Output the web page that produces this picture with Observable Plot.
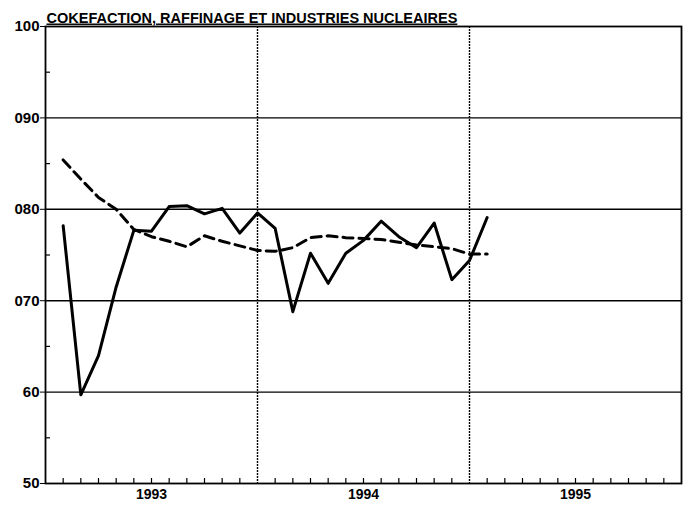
<!DOCTYPE html>
<html><head><meta charset="utf-8">
<script src="https://cdn.jsdelivr.net/npm/d3@7"></script>
<script src="https://cdn.jsdelivr.net/npm/@observablehq/plot@0.6"></script>
<style>body{margin:0;background:#fff}</style>
</head><body><div id="chart"></div>
<script>
const title = "COKEFACTION, RAFFINAGE ET INDUSTRIES NUCLEAIRES";
const months = ["1993-01","1993-02","1993-03","1993-04","1993-05","1993-06","1993-07","1993-08","1993-09","1993-10","1993-11","1993-12",
                "1994-01","1994-02","1994-03","1994-04","1994-05","1994-06","1994-07","1994-08","1994-09","1994-10","1994-11","1994-12",
                "1995-01"];
const actual = [78.2,59.7,64.0,71.5,77.7,77.6,80.3,80.4,79.5,80.1,77.4,79.6,
                77.9,68.8,75.2,71.9,75.2,76.6,78.7,77.0,75.8,78.5,72.3,74.4,
                79.1];
const trend  = [85.4,83.3,81.3,80.0,77.8,77.0,76.5,75.9,77.1,76.5,76.0,75.5,
                75.4,75.8,76.9,77.1,76.9,76.8,76.7,76.4,76.1,75.9,75.7,75.1,
                75.1];
const years = ["1993","1994","1995"];
const yTicks = [50,60,70,80,90,100];
const yTickLabels = ["50","60","070","080","090","100"];
const yGrid = [60,70,80,90];
const yMinor = [55,65,75,85,95];

const W = 688, H = 506;
const mL = 45, mR = 7, mT = 26, mB = 23;
const pw = W - mL - mR, ph = H - mT - mB;

// position: month index i -> end of month (i+1), on a 36-month axis
const data = months.map((m, i) => ({pos: i + 1, actual: actual[i], trend: trend[i]}));
const yearStarts = years.slice(1).map((y, i) => (i + 1) * 12);
const yearMids = years.map((y, i) => i * 12 + 6);
const monthTicks = d3.range(1, 36).filter(d => d % 12 !== 0);

const chart = Plot.plot({
  width: W, height: H,
  marginLeft: mL, marginRight: mR, marginTop: mT, marginBottom: mB,
  style: {fontFamily: "'Liberation Sans', Arial, sans-serif", color: "#000", background: "#fff"},
  x: {domain: [0, 36]},
  y: {domain: [50, 100]},
  marks: [
    Plot.ruleY(yGrid, {stroke: "#000", strokeWidth: 1.4}),
    Plot.ruleX(yearStarts, {stroke: "#000", strokeWidth: 1.4, strokeDasharray: "2,1"}),
    Plot.ruleX(monthTicks, {stroke: "#000", strokeWidth: 1.2, insetTop: ph - 5}),
    Plot.ruleY(yMinor, {stroke: "#000", strokeWidth: 1.2, insetRight: pw - 5}),
    Plot.frame({stroke: "#000", strokeWidth: 1.8}),
    Plot.line(data, {x: "pos", y: "trend", stroke: "#000", strokeWidth: 3, strokeDasharray: "10,6", strokeLinejoin: "round"}),
    Plot.line(data, {x: "pos", y: "actual", stroke: "#000", strokeWidth: 3, strokeLinejoin: "round"}),
    Plot.axisY(yTicks, {tickSize: 5, tickPadding: 1, tickFormat: d => yTickLabels[yTicks.indexOf(d)], fontSize: 15, fontWeight: "bold", label: null}),
    Plot.axisX(yearMids, {tickSize: 0, tickPadding: 6, tickFormat: d => years[yearMids.indexOf(d)], fontSize: 14, fontWeight: "bold", label: null}),
    Plot.text([title], {frameAnchor: "top-left", dy: -4, dx: 1, textAnchor: "start", lineAnchor: "bottom", fontSize: 14.5, fontWeight: "bold", className: "ttl"})
  ]
});
d3.select(chart).selectAll(".ttl text").attr("text-decoration", "underline");
document.getElementById("chart").appendChild(chart);
</script>
</body></html>
